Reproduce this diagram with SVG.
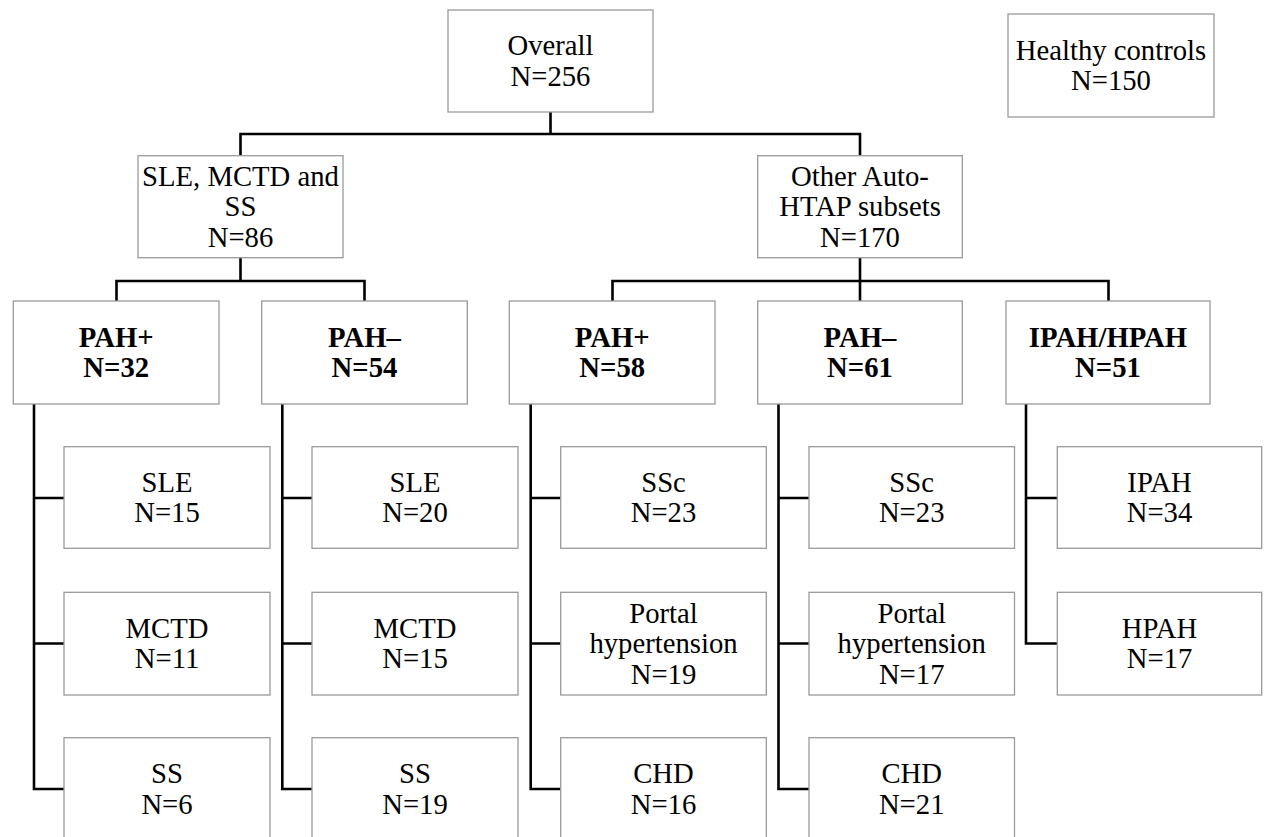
<svg xmlns="http://www.w3.org/2000/svg" width="1264" height="837" viewBox="0 0 1264 837">
<style>
  .box { fill: #ffffff; stroke: #9a9a9a; stroke-width: 1.3; }
  .t { font-family: "Liberation Serif", "Times New Roman", serif; font-size: 28.7px; fill: #000; text-anchor: middle; }
  .b { font-weight: bold; }
  .conn { fill: none; stroke: #000; stroke-width: 2.6; stroke-linejoin: miter; stroke-linecap: square; }
</style>
<rect width="1264" height="837" fill="#ffffff"/>
<g id="connectors" class="conn">
  <path d="M550.5 112 V134 M240.5 134 H860 M240.5 134 V155.7 M860 134 V155.7"/>
  <path d="M240.5 257.7 V281 M116.5 281 H364.5 M116.5 281 V301 M364.5 281 V301"/>
  <path d="M860 257.7 V281 M612.5 281 H1108.5 M612.5 281 V301 M860 281 V301 M1108.5 281 V301"/>
  <path d="M34 404 V789 H64 M34 498 H64 M34 643.5 H64"/>
  <path d="M282.3 404 V789 H312 M282.3 498 H312 M282.3 643.5 H312"/>
  <path d="M530.7 404 V789 H561 M530.7 498 H561 M530.7 643.5 H561"/>
  <path d="M778.5 404 V789 H809 M778.5 498 H809 M778.5 643.5 H809"/>
  <path d="M1026 404 V643.5 H1057 M1026 498 H1057"/>
</g>
<g id="overall">
  <rect class="box" x="448" y="10" width="205" height="102"/>
  <text class="t" x="550.5" y="55.25">Overall</text>
  <text class="t" x="550.5" y="85.75">N=256</text>
</g>
<g id="healthy">
  <rect class="box" x="1008" y="14" width="206" height="103"/>
  <text class="t" x="1111" y="59.75">Healthy controls</text>
  <text class="t" x="1111" y="90.25">N=150</text>
</g>
<g id="sle-mctd-ss">
  <rect class="box" x="138" y="155.7" width="205" height="102"/>
  <text class="t" x="240.5" y="185.7">SLE, MCTD and</text>
  <text class="t" x="240.5" y="216.2">SS</text>
  <text class="t" x="240.5" y="246.7">N=86</text>
</g>
<g id="other-autohtap">
  <rect class="box" x="757.7" y="155.7" width="204.6" height="102"/>
  <text class="t" x="860" y="185.7">Other Auto-</text>
  <text class="t" x="860" y="216.2">HTAP subsets</text>
  <text class="t" x="860" y="246.7">N=170</text>
</g>
<g id="pah-pos-1">
  <rect class="box" x="13.3" y="301" width="205.7" height="103"/>
  <text class="t b" x="116.2" y="346.75">PAH+</text>
  <text class="t b" x="116.2" y="377.25">N=32</text>
</g>
<g id="pah-neg-1">
  <rect class="box" x="261.7" y="301" width="205.6" height="103"/>
  <text class="t b" x="364.5" y="346.75">PAH–</text>
  <text class="t b" x="364.5" y="377.25">N=54</text>
</g>
<g id="pah-pos-2">
  <rect class="box" x="509.3" y="301" width="205.7" height="103"/>
  <text class="t b" x="612.2" y="346.75">PAH+</text>
  <text class="t b" x="612.2" y="377.25">N=58</text>
</g>
<g id="pah-neg-2">
  <rect class="box" x="757.7" y="301" width="204.6" height="103"/>
  <text class="t b" x="860" y="346.75">PAH–</text>
  <text class="t b" x="860" y="377.25">N=61</text>
</g>
<g id="ipah-hpah">
  <rect class="box" x="1006" y="301" width="204" height="103"/>
  <text class="t b" x="1108" y="346.75">IPAH/HPAH</text>
  <text class="t b" x="1108" y="377.25">N=51</text>
</g>
<g id="sle-1">
  <rect class="box" x="64" y="446.7" width="206" height="101.6"/>
  <text class="t" x="167" y="491.75">SLE</text>
  <text class="t" x="167" y="522.25">N=15</text>
</g>
<g id="mctd-1">
  <rect class="box" x="64" y="592.3" width="206" height="102.7"/>
  <text class="t" x="167" y="637.85">MCTD</text>
  <text class="t" x="167" y="668.35">N=11</text>
</g>
<g id="ss-1">
  <rect class="box" x="64" y="737.7" width="206" height="102"/>
  <text class="t" x="167" y="783.25">SS</text>
  <text class="t" x="167" y="813.75">N=6</text>
</g>
<g id="sle-2">
  <rect class="box" x="312" y="446.7" width="206" height="101.6"/>
  <text class="t" x="415" y="491.75">SLE</text>
  <text class="t" x="415" y="522.25">N=20</text>
</g>
<g id="mctd-2">
  <rect class="box" x="312" y="592.3" width="206" height="102.7"/>
  <text class="t" x="415" y="637.85">MCTD</text>
  <text class="t" x="415" y="668.35">N=15</text>
</g>
<g id="ss-2">
  <rect class="box" x="312" y="737.7" width="206" height="102"/>
  <text class="t" x="415" y="783.25">SS</text>
  <text class="t" x="415" y="813.75">N=19</text>
</g>
<g id="ssc-1">
  <rect class="box" x="560.7" y="446.7" width="205.6" height="101.6"/>
  <text class="t" x="663.5" y="491.75">SSc</text>
  <text class="t" x="663.5" y="522.25">N=23</text>
</g>
<g id="portal-1">
  <rect class="box" x="560.7" y="592.3" width="205.6" height="102.7"/>
  <text class="t" x="663.5" y="622.6">Portal</text>
  <text class="t" x="663.5" y="653.1">hypertension</text>
  <text class="t" x="663.5" y="683.6">N=19</text>
</g>
<g id="chd-1">
  <rect class="box" x="560.7" y="737.7" width="205.6" height="102"/>
  <text class="t" x="663.5" y="783.25">CHD</text>
  <text class="t" x="663.5" y="813.75">N=16</text>
</g>
<g id="ssc-2">
  <rect class="box" x="809" y="446.7" width="205.5" height="101.6"/>
  <text class="t" x="911.7" y="491.75">SSc</text>
  <text class="t" x="911.7" y="522.25">N=23</text>
</g>
<g id="portal-2">
  <rect class="box" x="809" y="592.3" width="205.5" height="102.7"/>
  <text class="t" x="911.7" y="622.6">Portal</text>
  <text class="t" x="911.7" y="653.1">hypertension</text>
  <text class="t" x="911.7" y="683.6">N=17</text>
</g>
<g id="chd-2">
  <rect class="box" x="809" y="737.7" width="205.5" height="102"/>
  <text class="t" x="911.7" y="783.25">CHD</text>
  <text class="t" x="911.7" y="813.75">N=21</text>
</g>
<g id="ipah">
  <rect class="box" x="1057.3" y="446.7" width="204.4" height="101.6"/>
  <text class="t" x="1159.5" y="491.75">IPAH</text>
  <text class="t" x="1159.5" y="522.25">N=34</text>
</g>
<g id="hpah">
  <rect class="box" x="1057.3" y="592.3" width="204.4" height="102.7"/>
  <text class="t" x="1159.5" y="637.85">HPAH</text>
  <text class="t" x="1159.5" y="668.35">N=17</text>
</g>
</svg>
